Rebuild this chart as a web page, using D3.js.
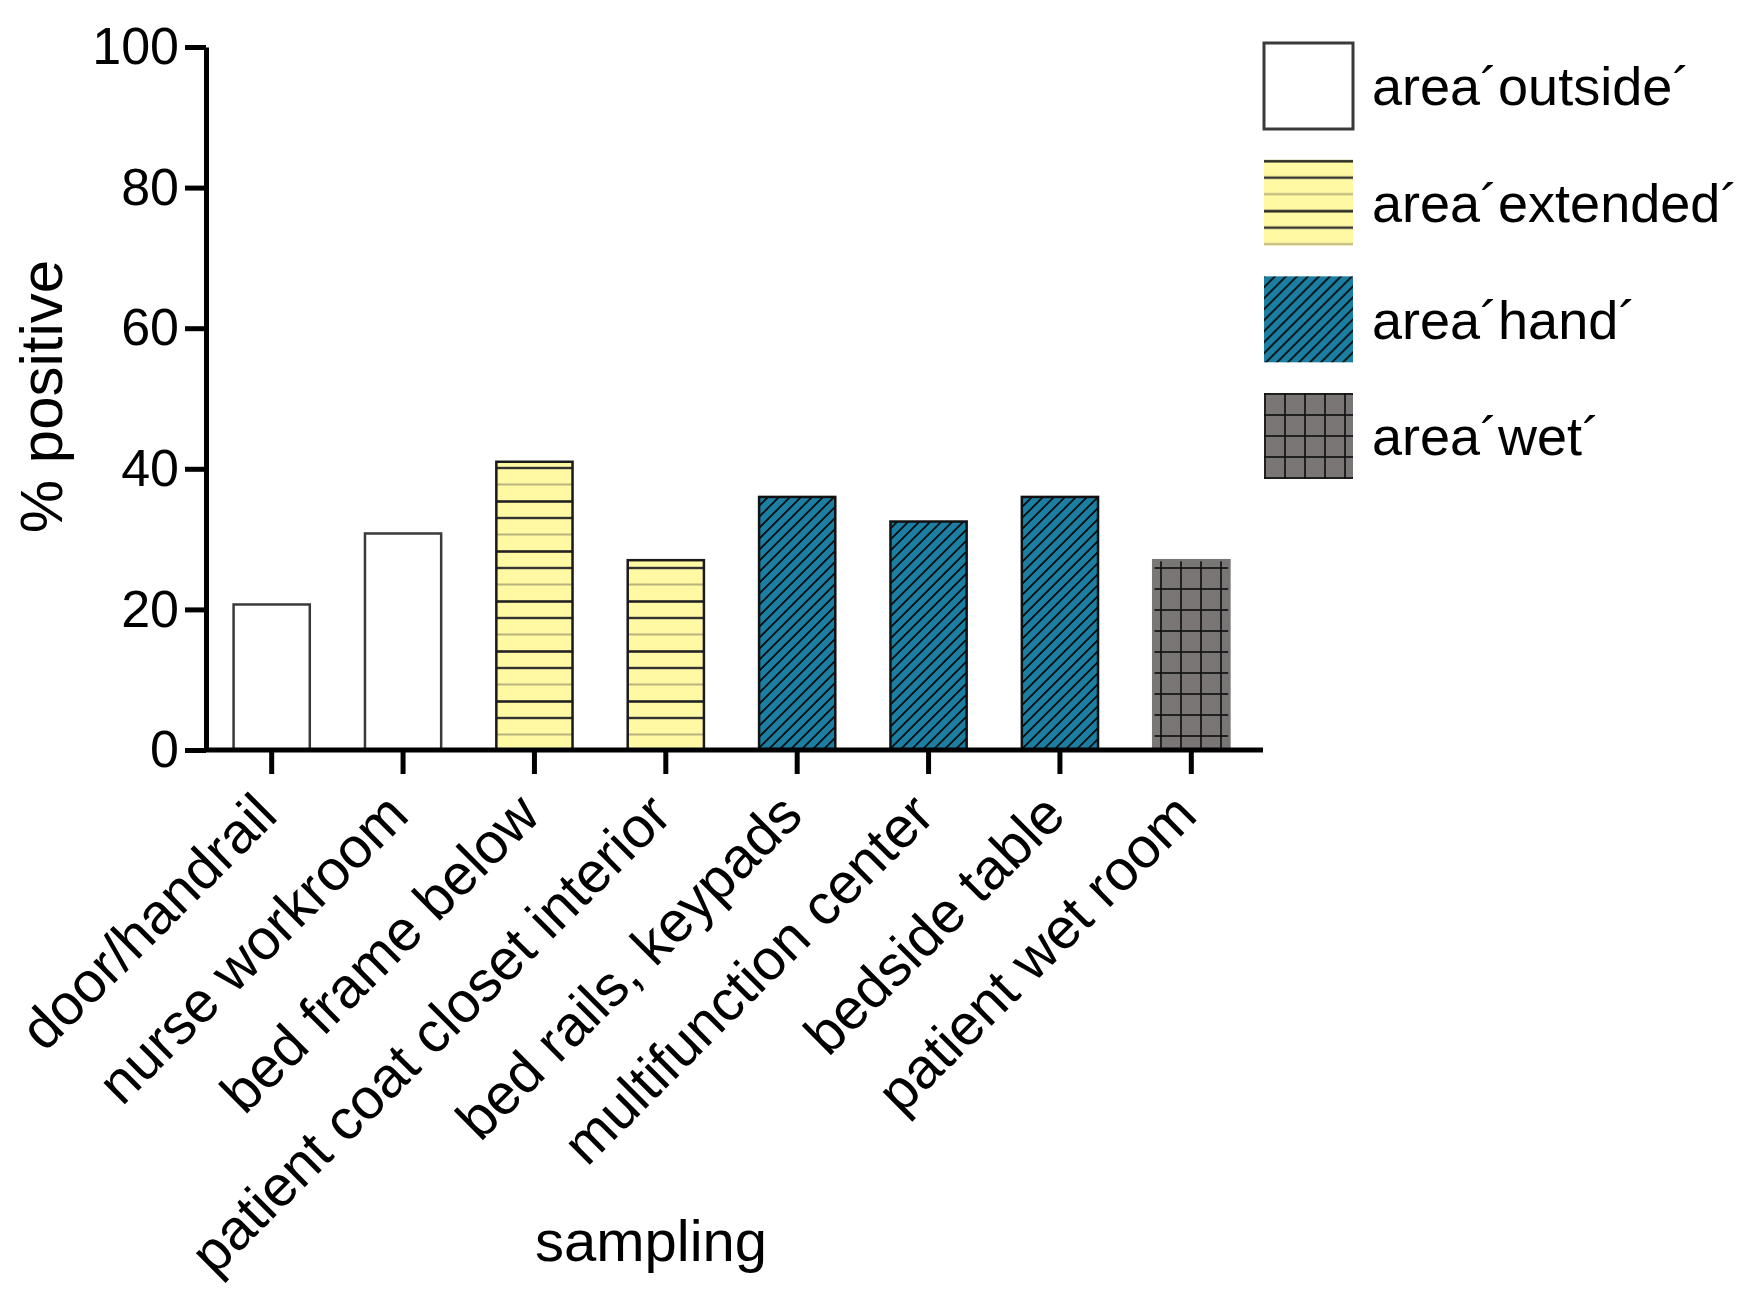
<!DOCTYPE html>
<html>
<head>
<meta charset="utf-8">
<script src="https://cdn.jsdelivr.net/npm/d3@7"></script>
<style>
  html, body { margin: 0; padding: 0; background: #fff; }
  svg { display: block; font-family: "Liberation Sans", Arial, Helvetica, sans-serif; }
</style>
</head>
<body>
<div id="chart"></div>
<script>
// categories and values
var CATEGORIES = ['door/handrail', 'nurse workroom', 'bed frame below', 'patient coat closet interior',
                  'bed rails, keypads', 'multifunction center', 'bedside table', 'patient wet room'];
var VALUES = [20.7, 30.8, 41.0, 27.0, 36.0, 32.5, 36.0, 27.0];
var AREA_OF = ['outside', 'outside', 'extended', 'extended', 'hand', 'hand', 'hand', 'wet'];
var AREAS = ['outside', 'extended', 'hand', 'wet'];
var LEGEND_LABELS = ['area\u00B4outside\u00B4', 'area\u00B4extended\u00B4', 'area\u00B4hand\u00B4', 'area\u00B4wet\u00B4'];
var Y_TICKS = [0, 20, 40, 60, 80, 100];

var W = 1753, H = 1302;
var margin = { left: 206, top: 47, right: 490, bottom: 552 };

var svg = d3.select('#chart').append('svg').attr('width', W).attr('height', H);
var defs = svg.append('defs');

// --- fill patterns ---
var pExt = defs.append('pattern').attr('id', 'p-extended')
    .attr('patternUnits', 'userSpaceOnUse').attr('width', 10).attr('height', 50);
pExt.append('rect').attr('width', 10).attr('height', 50).attr('fill', '#fff9a3');
pExt.append('line').attr('x1', 0).attr('x2', 10).attr('y1', 1.5).attr('y2', 1.5).attr('stroke', '#222').attr('stroke-width', 2.6);
pExt.append('line').attr('x1', 0).attr('x2', 10).attr('y1', 18).attr('y2', 18).attr('stroke', '#333').attr('stroke-width', 2.4);
pExt.append('line').attr('x1', 0).attr('x2', 10).attr('y1', 34.5).attr('y2', 34.5).attr('stroke', '#b8b27c').attr('stroke-width', 2);

var hs = 11;
var pHand = defs.append('pattern').attr('id', 'p-hand')
    .attr('patternUnits', 'userSpaceOnUse').attr('width', hs).attr('height', hs);
pHand.append('rect').attr('width', hs).attr('height', hs).attr('fill', '#1a7fa3');
pHand.append('path')
    .attr('d', 'M0,' + hs + 'L' + hs + ',0M-2,2L2,-2M' + (hs - 2) + ',' + (hs + 2) + 'L' + (hs + 2) + ',' + (hs - 2))
    .attr('stroke', '#0a0a0a').attr('stroke-width', 1.8);

var pWet = defs.append('pattern').attr('id', 'p-wet')
    .attr('patternUnits', 'userSpaceOnUse').attr('width', 20).attr('height', 21);
pWet.append('rect').attr('width', 20).attr('height', 21).attr('fill', '#7b7676');
pWet.append('line').attr('x1', 1).attr('x2', 1).attr('y1', 0).attr('y2', 21).attr('stroke', '#111').attr('stroke-width', 2).attr('opacity', 0.85);
pWet.append('line').attr('x1', 0).attr('x2', 20).attr('y1', 1).attr('y2', 1).attr('stroke', '#111').attr('stroke-width', 2).attr('opacity', 0.85);

var FILLS = { outside: '#ffffff', extended: 'url(#p-extended)', hand: 'url(#p-hand)', wet: 'url(#p-wet)' };
var STROKES = { outside: '#3a3a3a', extended: '#1a1a1a', hand: '#111', wet: '#777' };

// --- scales ---
var x = d3.scaleBand().domain(CATEGORIES)
    .range([margin.left, W - margin.right - 6])
    .paddingInner(0.42).paddingOuter(0.21);
var y = d3.scaleLinear().domain([0, 100]).range([H - margin.bottom, margin.top]);

// --- bars ---
svg.append('g').selectAll('rect').data(VALUES).enter().append('rect')
    .attr('x', function(d, i) { return x(CATEGORIES[i]); })
    .attr('y', function(d) { return y(d); })
    .attr('width', x.bandwidth())
    .attr('height', function(d) { return y(0) - y(d); })
    .attr('fill', function(d, i) { return FILLS[AREA_OF[i]]; })
    .attr('stroke', function(d, i) { return STROKES[AREA_OF[i]]; })
    .attr('stroke-width', 2.5);

// --- axes ---
var yAxis = svg.append('g').attr('transform', 'translate(' + margin.left + ',0)')
    .call(d3.axisLeft(y).tickValues(Y_TICKS).tickSize(21).tickSizeOuter(0).tickPadding(6));
yAxis.select('.domain').attr('stroke', '#000').attr('stroke-width', 5);
yAxis.selectAll('.tick line').attr('stroke', '#000').attr('stroke-width', 5);
yAxis.selectAll('.tick text').attr('font-size', 52).attr('fill', '#000')
    .attr('font-family', '"Liberation Sans", Arial, sans-serif');

var xAxis = svg.append('g').attr('transform', 'translate(0,' + y(0) + ')')
    .call(d3.axisBottom(x).tickSize(24).tickSizeOuter(0).tickFormat(''));
xAxis.select('.domain').attr('d', 'M' + margin.left + ',0H' + (W - margin.right))
    .attr('stroke', '#000').attr('stroke-width', 5);
xAxis.selectAll('.tick line').attr('stroke', '#000').attr('stroke-width', 5);

// rotated category labels
svg.append('g').selectAll('text').data(CATEGORIES).enter().append('text')
    .attr('transform', function(d) {
        return 'translate(' + (x(d) + x.bandwidth() / 2 + 8) + ',' + (y(0) + 68) + ') rotate(-45)';
    })
    .attr('text-anchor', 'end')
    .attr('font-size', 57)
    .attr('fill', '#000')
    .text(function(d) { return d; });

// axis titles
svg.append('text')
    .attr('transform', 'translate(' + 62 + ',' + ((y(0) + y(100)) / 2 - 2) + ') rotate(-90)')
    .attr('text-anchor', 'middle')
    .attr('font-size', 60)
    .text('% positive');

svg.append('text')
    .attr('x', 651).attr('y', 1261)
    .attr('text-anchor', 'middle')
    .attr('font-size', 58)
    .text('sampling');

// --- legend ---
var ly = d3.scalePoint().domain(AREAS).range([43, 393]);
var leg = svg.append('g').selectAll('g').data(AREAS).enter().append('g')
    .attr('transform', function(d) { return 'translate(1264,' + ly(d) + ')'; });
leg.append('rect')
    .attr('width', 89).attr('height', 86)
    .attr('fill', function(d) { return FILLS[d]; })
    .attr('stroke', function(d) { return d === 'outside' ? '#3a3a3a' : 'none'; })
    .attr('stroke-width', 3);
leg.append('text')
    .attr('x', 108).attr('y', 43).attr('dy', '0.36em')
    .attr('font-size', 54)
    .text(function(d, i) { return LEGEND_LABELS[i]; });
</script>
</body>
</html>
